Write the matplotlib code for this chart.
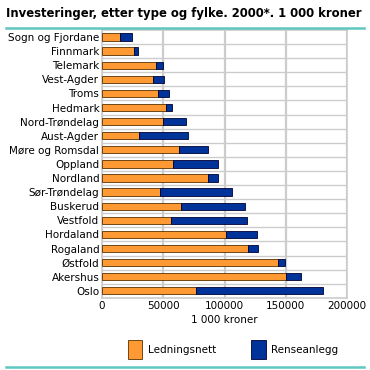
import matplotlib.pyplot as plt
from matplotlib.lines import Line2D

counties = ["Sogn og Fjordane", "Finnmark", "Telemark", "Vest-Agder", "Troms",
            "Hedmark", "Nord-Trøndelag", "Aust-Agder", "Møre og Romsdal", "Oppland",
            "Nordland", "Sør-Trøndelag", "Buskerud", "Vestfold", "Hordaland",
            "Rogaland", "Østfold", "Akershus", "Oslo"]
ledningsnett = [15000, 26000, 44000, 41500, 46000, 52000, 49500, 30000, 63000, 58000,
                86500, 47500, 64500, 56500, 101500, 119000, 144000, 150000, 77000]
renseanlegg = [9500, 3500, 6000, 9000, 8500, 5000, 19000, 40500, 23500, 37000,
               8500, 58500, 52500, 62000, 25000, 8500, 5500, 12500, 103500]
xticks = [0, 50000, 100000, 150000, 200000]

orange = "#ff9933"
blue = "#003399"
teal = "#5fc6c0"

fig = plt.figure(figsize=(3.7, 3.7), dpi=100)
ax = fig.add_axes([0.276, 0.195, 0.662, 0.724])

y = list(range(len(counties)))
ax.barh(y, ledningsnett, height=0.52, color=orange, edgecolor="#5a3000", linewidth=0.6,
        label="Ledningsnett", zorder=3)
ax.barh(y, renseanlegg, left=ledningsnett, height=0.52, color=blue, edgecolor="#000033",
        linewidth=0.6, label="Renseanlegg", zorder=3)

ax.set_ylim(len(counties) - 0.5, -0.5)
ax.set_yticks(y)
ax.set_yticklabels(counties, fontsize=7.5)
ax.set_xlim(0, 200000)
ax.set_xticks(xticks)
ax.set_xticklabels([str(v) for v in xticks], fontsize=7.5)
ax.set_xlabel("1 000 kroner", fontsize=7.5, labelpad=3)
ax.tick_params(length=0, pad=2)

ax.set_yticks([i + 0.5 for i in y[:-1]], minor=True)
ax.tick_params(which="minor", length=0)
ax.grid(axis="x", color="#cccccc", linewidth=1.6, zorder=0)
ax.grid(axis="y", which="minor", color="#cccccc", linewidth=1.0, zorder=0)
for s in ax.spines.values():
    s.set_color("#cccccc")
    s.set_linewidth(1.2)

fig.text(0.015, 0.963, "Investeringer, etter type og fylke. 2000*. 1 000 kroner",
         fontsize=8.4, fontweight="bold", va="center", ha="left")
fig.add_artist(Line2D([0.015, 0.985], [0.925, 0.925], color=teal, linewidth=1.8))
fig.add_artist(Line2D([0.015, 0.985], [0.008, 0.008], color=teal, linewidth=1.8))

fig.legend(loc="center", bbox_to_anchor=(0.63, 0.055), ncol=2, frameon=False,
           fontsize=7.5, handlelength=1.4, handleheight=2.4, handletextpad=0.5,
           columnspacing=3.4)

fig.savefig("out.png", dpi=100)
